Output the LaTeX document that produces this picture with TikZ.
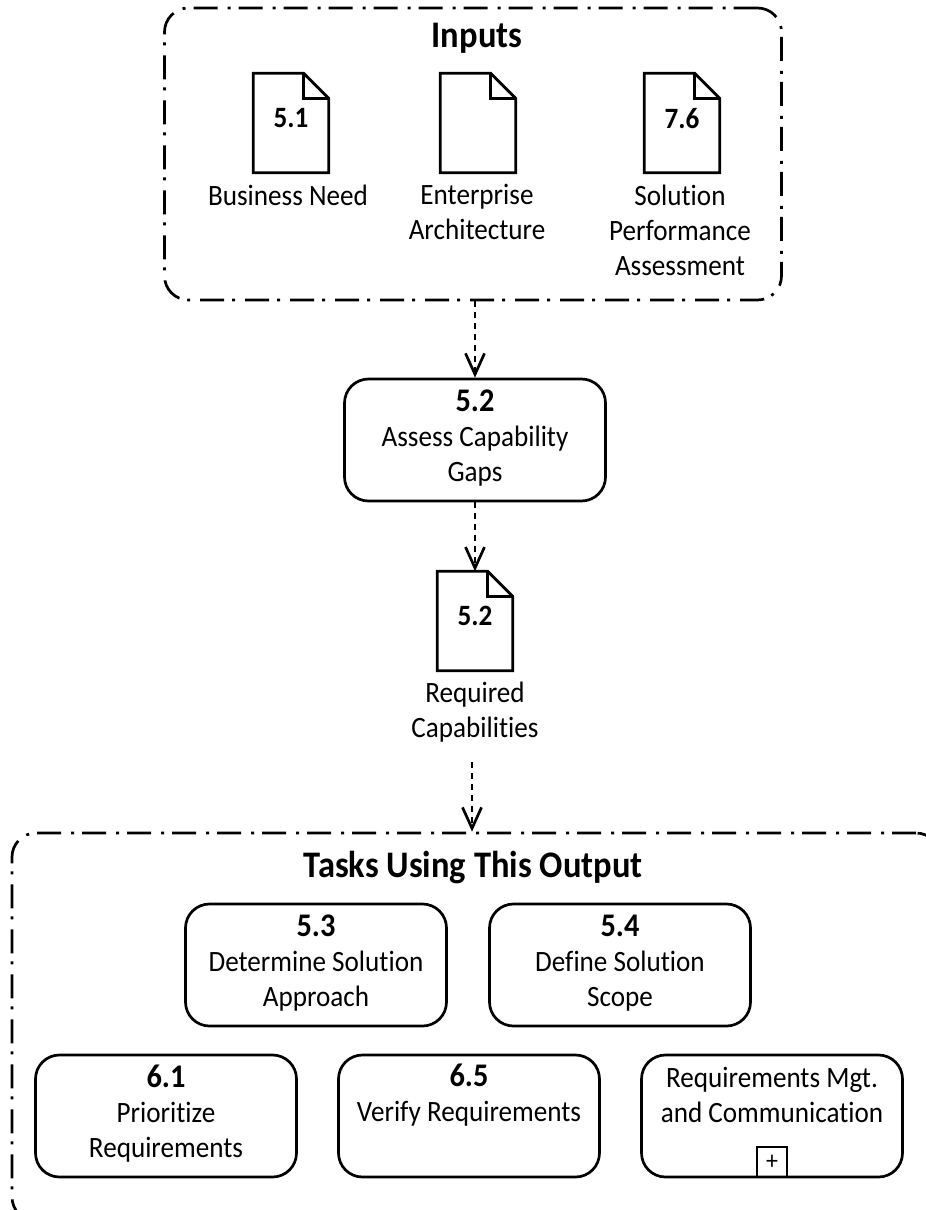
\documentclass[tikz,border=0pt]{standalone}
\usepackage{fontspec}
\setmainfont{Carlito}[FakeStretch=0.92, Ligatures=NoCommon]
\usetikzlibrary{arrows.meta}
\newcommand{\tasknum}[1]{{\fontsize{33}{35}\selectfont\bfseries #1}}
\tikzset{
  basetext/.style={align=center, font=\fontsize{29.5}{35}\selectfont, inner sep=0pt},
  groupbox/.style={draw, rounded corners=24pt, line width=2.7pt, dash pattern=on 24pt off 8pt on 3pt off 10pt},
  taskbox/.style={basetext, draw, rounded corners=24pt, line width=2.7pt, minimum width=261pt, minimum height=122pt, text depth=9pt},
  docicon/.style={basetext, minimum width=75pt, minimum height=99pt, text depth=10pt},
  flow/.style={line width=2.7pt, dash pattern=on 6pt off 5pt, -{Straight Barb[length=21pt, width=19pt, line width=2.7pt]}},
  grouptitle/.style={font=\fontsize{37.5}{35}\selectfont\bfseries, inner sep=0pt}
}
\begin{document}
\begin{tikzpicture}[x=1pt, y=-1pt]
  \useasboundingbox (0, 0) rectangle (926, 1210);
  \clip (0, 0) rectangle (926, 1210);

  % inputs
  \node (inputs) at (473, 154) [groupbox, minimum width=617pt, minimum height=292pt] {};
  \node (inputstitle) at (477, 38) [grouptitle] {Inputs};
  \node (docneed) at (291, 123) [docicon] {\textbf{5.1}};
  \node (docarch) at (478, 123) [docicon] {};
  \node (docperf) at (682, 123) [docicon] {\textbf{7.6}};
  \node (needlabel) at (288, 195) [basetext] {Business Need};
  \node (archlabel) at (477, 212) [basetext] {Enterprise\\Architecture};
  \node (perflabel) at (680, 230) [basetext] {Solution\\Performance\\Assessment};

  % task and output
  \node (assess) at (475, 440) [taskbox] {\tasknum{5.2}\\Assess Capability\\Gaps};
  \node (docreq) at (475, 621) [docicon] {\textbf{5.2}};
  \node (reqlabel) at (475, 712) [basetext] {Required\\Capabilities};
  \coordinate (reqout) at (472, 762);

  % tasks using the output
  \node (tasks) at (476, 1027) [groupbox, minimum width=928pt, minimum height=388pt] {};
  \node (taskstitle) at (473, 868) [grouptitle] {Tasks Using This Output};
  \node (approach) at (316, 965) [taskbox] {\tasknum{5.3}\\Determine Solution\\Approach};
  \node (scope) at (620, 965) [taskbox] {\tasknum{5.4}\\Define Solution\\Scope};
  \node (prioritize) at (166, 1116) [taskbox] {\tasknum{6.1}\\Prioritize\\Requirements};
  \node (verify) at (469, 1116) [taskbox, text depth=11pt] {\tasknum{6.5}\\Verify Requirements\\~};
  \node (mgt) at (772, 1116) [taskbox, text depth=7pt] {Requirements Mgt.\\and Communication\\~};
  \node (plus) at (mgt.south) [anchor=south, draw, line width=2.7pt, minimum size=30pt, inner sep=0pt, font=\fontsize{26}{26}\selectfont] {+};

  \foreach \doc in {docneed, docarch, docperf, docreq} {
    \draw [line width=2.7pt, line join=miter]
      (\doc.north west) -- ([xshift=-25pt]\doc.north east) -- ([yshift=-25pt]\doc.north east)
      -- (\doc.south east) -- (\doc.south west) -- cycle;
    \draw [line width=2.7pt]
      ([xshift=-25pt]\doc.north east) -- ([xshift=-25pt, yshift=-25pt]\doc.north east) -- ([yshift=-25pt]\doc.north east);
  }

  \draw [flow] (inputs.south -| assess) to (assess.north);
  \draw [flow] (assess.south) to (docreq.north);
  \draw [flow] (reqout) to (reqout |- tasks.north);
\end{tikzpicture}
\end{document}
